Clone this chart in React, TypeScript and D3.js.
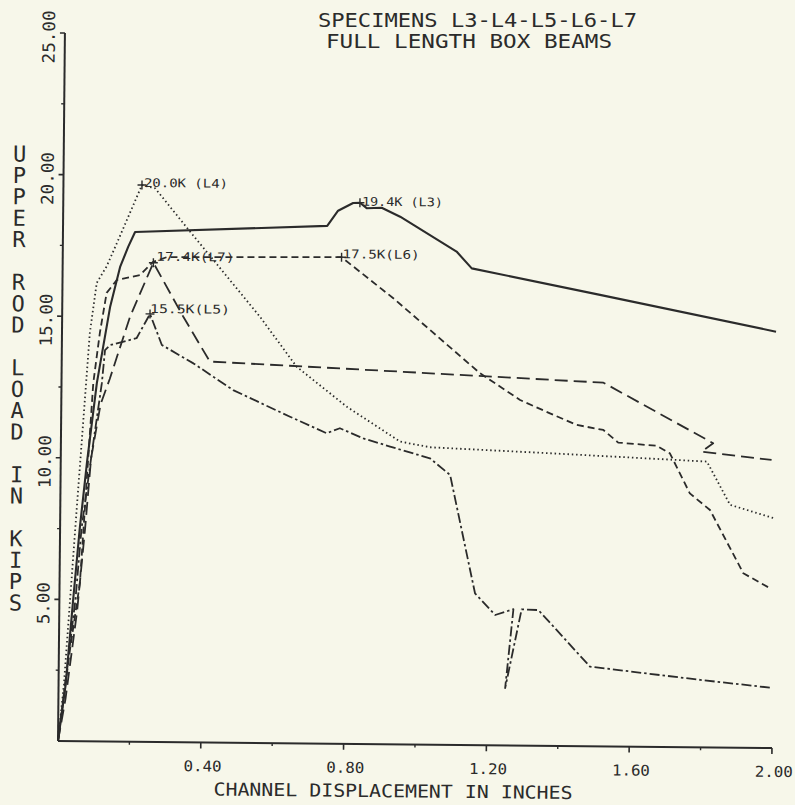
import React from "react";
import * as d3 from "d3";

const W = 795;
const H = 805;
const FONT = "'DejaVu Sans Mono', monospace";
const INK = "#2b2b2b";
const BG = "#f7f7ea";

// Axis ticks
const xTickValues = [0.4, 0.8, 1.2, 1.6, 2.0];
const xTickLabels = ["0.40", "0.80", "1.20", "1.60", "2.00"];
const xMinorTicks = [0.2, 0.6, 1.0, 1.4, 1.8];
const yTickValues = [5, 10, 15, 20, 25];
const yTickLabels = ["5.00", "10.00", "15.00", "20.00", "25.00"];
const yMinorTicks = [2.5, 7.5, 12.5, 17.5, 22.5];

// Specimen L3 (solid)
const l3Disp = [0, 0.02, 0.038, 0.055, 0.074, 0.099, 0.134, 0.161, 0.183, 0.202, 0.74, 0.77, 0.812, 0.831, 0.85, 0.892, 0.944, 1.103, 1.146, 1.506, 2.0];
const l3Load = [0, 2.0, 4.9, 7.5, 9.9, 12.65, 15.34, 16.76, 17.47, 18.0, 18.28, 18.82, 19.1, 19.11, 18.92, 18.94, 18.63, 17.42, 16.83, 15.94, 14.7];

// Specimen L4 (dotted)
const l4Disp = [0, 0.015, 0.03, 0.045, 0.058, 0.078, 0.096, 0.123, 0.151, 0.22, 0.257, 0.356, 0.422, 0.554, 0.658, 0.8, 0.95, 1.034, 1.37, 1.81, 1.876, 2.0];
const l4Load = [0, 2.0, 5.0, 8.0, 10.52, 14.42, 16.19, 16.77, 17.59, 19.66, 19.55, 18.03, 17.04, 15.05, 13.3, 11.9, 10.69, 10.5, 10.33, 10.09, 8.57, 8.11];

// Specimen L5 (dash-dot)
const l5Disp = [0, 0.02, 0.045, 0.06, 0.085, 0.113, 0.121, 0.135, 0.209, 0.246, 0.28, 0.369, 0.481, 0.641, 0.744, 0.781, 0.847, 0.922, 1.034, 1.091, 1.164, 1.221, 1.272, 1.251, 1.295, 1.342, 1.488, 1.797, 2.0];
const l5Load = [0, 2.2, 5.0, 7.5, 10.0, 12.65, 13.82, 14.0, 14.25, 15.11, 14.02, 13.38, 12.45, 11.53, 10.96, 11.14, 10.79, 10.51, 10.11, 9.53, 5.36, 4.6, 4.81, 2.02, 4.81, 4.79, 2.81, 2.38, 2.12];

// Specimen L6 (medium dash)
const l6Disp = [0, 0.031, 0.057, 0.073, 0.081, 0.089, 0.106, 0.124, 0.152, 0.217, 0.253, 0.291, 0.781, 0.927, 1.031, 1.172, 1.285, 1.369, 1.444, 1.519, 1.561, 1.669, 1.706, 1.763, 1.82, 1.915, 1.99];
const l6Load = [0, 3.22, 5.59, 9.12, 10.89, 12.65, 14.42, 15.84, 16.3, 16.48, 16.95, 17.12, 17.18, 15.75, 14.64, 13.13, 12.2, 11.74, 11.34, 11.17, 10.73, 10.63, 10.37, 8.96, 8.38, 6.16, 5.64];

// Specimen L7 (long dash)
const l7Disp = [0, 0.02, 0.05, 0.07, 0.085, 0.11, 0.135, 0.19, 0.254, 0.339, 0.415, 0.948, 1.518, 1.827, 1.795, 1.991];
const l7Load = [0, 1.5, 4.6, 7.5, 10.0, 11.9, 12.8, 15.0, 16.92, 15.03, 13.45, 13.16, 12.84, 10.74, 10.44, 10.17];

// Peak annotations
const peakLabels = ["19.4K (L3)", "20.0K (L4)", "15.5K(L5)", "17.5K(L6)", "17.4K(L7)"];
const peakDisp = [0.831, 0.22, 0.246, 0.781, 0.254];
const peakLoad = [19.11, 19.66, 15.11, 17.18, 16.92];

const titleLine1 = "SPECIMENS L3-L4-L5-L6-L7";
const titleLine2 = "FULL LENGTH BOX BEAMS";
const xTitle = "CHANNEL DISPLACEMENT IN INCHES";
const yTitle = "UPPER ROD LOAD IN KIPS";

const seriesStyles = [
  { dash: "none", width: 2.1 },
  { dash: "1.5 2.8", width: 1.8 },
  { dash: "10 3 2.5 3", width: 1.8 },
  { dash: "7 4", width: 1.8 },
  { dash: "13 6", width: 1.8 },
];
const labelOffsets = [
  [2, -1],
  [2, -2],
  [0, -5],
  [1, -3],
  [3, -6],
];
const labelLengths = [81, 84, 80, 77, 78];

export default function App() {
  const x = d3.scaleLinear().domain([0, 2]).range([58, 772]);
  const y = d3.scaleLinear().domain([0, 25]).range([741, 33]);

  const series = [
    [l3Disp, l3Load],
    [l4Disp, l4Load],
    [l5Disp, l5Load],
    [l6Disp, l6Load],
    [l7Disp, l7Load],
  ];

  const line = d3
    .line<[number, number]>()
    .x((d) => x(d[0]))
    .y((d) => y(d[1]));

  const plus = d3.symbol(d3.symbolPlus, 28)() || "";

  return (
    <svg
      width={W}
      height={H}
      viewBox={`0 0 ${W} ${H}`}
      style={{ position: "absolute", left: 0, top: 0 }}
    >
      <rect x={0} y={0} width={W} height={H} fill={BG} />

      <text
        x={318}
        y={27}
        fontFamily={FONT}
        fontSize={19}
        fill={INK}
        textLength={319}
        lengthAdjust="spacingAndGlyphs"
      >
        {titleLine1}
      </text>
      <text
        x={326}
        y={48}
        fontFamily={FONT}
        fontSize={19}
        fill={INK}
        textLength={286}
        lengthAdjust="spacingAndGlyphs"
      >
        {titleLine2}
      </text>

      <g transform="rotate(0.56, 58, 741)">
        {/* axes */}
        <line x1={x(0)} y1={y(0)} x2={x(0)} y2={y(25)} stroke={INK} strokeWidth={2} />
        <line x1={x(0)} y1={y(0)} x2={x(2)} y2={y(0)} stroke={INK} strokeWidth={2} />

        {yTickValues.map((v, i) => (
          <g key={"yt" + i}>
            <line x1={x(0) - 5} x2={x(0)} y1={y(v)} y2={y(v)} stroke={INK} strokeWidth={1.6} />
            <text
              transform={`translate(42, ${y(v) + 4}) rotate(-90)`}
              textAnchor="middle"
              dominantBaseline="central"
              fontFamily={FONT}
              fontSize={17}
              fill={INK}
              textLength={yTickLabels[i].length === 5 ? 53 : 42}
              lengthAdjust="spacingAndGlyphs"
            >
              {yTickLabels[i]}
            </text>
          </g>
        ))}
        {yMinorTicks.map((v, i) => (
          <line key={"ym" + i} x1={x(0) - 3} x2={x(0)} y1={y(v)} y2={y(v)} stroke={INK} strokeWidth={1.4} />
        ))}

        {xTickValues.map((v, i) => (
          <g key={"xt" + i}>
            <line x1={x(v)} x2={x(v)} y1={y(0)} y2={y(0) + 6} stroke={INK} strokeWidth={1.6} />
            <text
              x={x(v) + 2}
              y={y(0) + 24}
              textAnchor="middle"
              dominantBaseline="central"
              fontFamily={FONT}
              fontSize={15}
              fill={INK}
              textLength={38}
              lengthAdjust="spacingAndGlyphs"
            >
              {xTickLabels[i]}
            </text>
          </g>
        ))}
        {xMinorTicks.map((v, i) => (
          <line key={"xm" + i} x1={x(v)} x2={x(v)} y1={y(0)} y2={y(0) + 3} stroke={INK} strokeWidth={1.4} />
        ))}

        <text
          x={214}
          y={794}
          fontFamily={FONT}
          fontSize={18}
          fill={INK}
          textLength={359}
          lengthAdjust="spacingAndGlyphs"
        >
          {xTitle}
        </text>

        <text
          x={14}
          y={142}
          fontFamily={FONT}
          fontSize={22}
          fill={INK}
          textLength={474}
          lengthAdjust="spacing"
          style={{ writingMode: "vertical-rl", textOrientation: "upright" } as React.CSSProperties}
        >
          {yTitle}
        </text>

        {/* curves */}
        {series.map((s, i) => {
          const pts = s[0].map((d, j) => [d, s[1][j]] as [number, number]);
          return (
            <path
              key={"s" + i}
              d={line(pts) || ""}
              fill="none"
              stroke={INK}
              strokeWidth={seriesStyles[i].width}
              strokeDasharray={seriesStyles[i].dash}
              strokeLinejoin="round"
            />
          );
        })}

        {peakLabels.map((lab, i) => (
          <g key={"pk" + i}>
            <path
              d={plus}
              transform={`translate(${x(peakDisp[i])}, ${y(peakLoad[i])})`}
              fill="none"
              stroke={INK}
              strokeWidth={1.4}
            />
            <text
              x={x(peakDisp[i]) + labelOffsets[i][0]}
              y={y(peakLoad[i]) + labelOffsets[i][1]}
              dominantBaseline="central"
              fontFamily={FONT}
              fontSize={12}
              fill={INK}
              textLength={labelLengths[i]}
              lengthAdjust="spacingAndGlyphs"
            >
              {lab}
            </text>
          </g>
        ))}
      </g>
    </svg>
  );
}
